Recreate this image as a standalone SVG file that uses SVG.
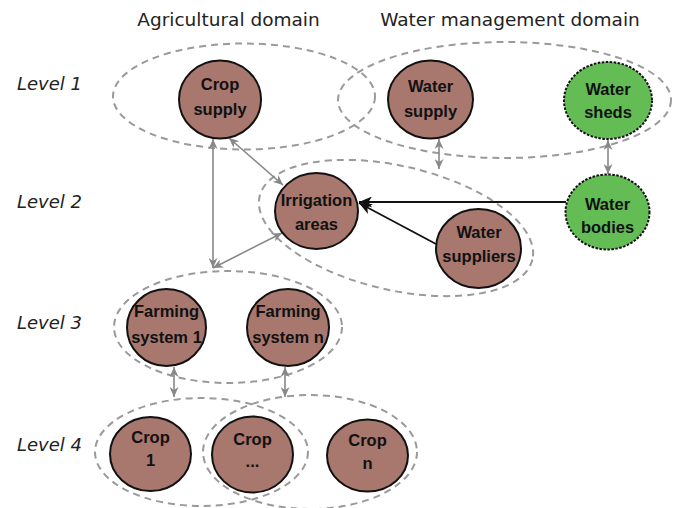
<svg xmlns="http://www.w3.org/2000/svg" width="676" height="508" viewBox="0 0 676 508">
<style>
.grp{fill:none;stroke:#9a9a9a;stroke-width:2;stroke-dasharray:7,5}
.brown{fill:#a8776e;stroke:#111;stroke-width:2}
.green{fill:#64bc55;stroke:#111;stroke-width:2;stroke-dasharray:2.5,1.5}
.lbl{font-family:"Liberation Sans",Arial,sans-serif;font-weight:bold;font-size:16.5px;fill:#111;text-anchor:middle}
.title{font-family:"DejaVu Sans",sans-serif;font-size:18.5px;fill:#222;text-anchor:middle}
.lvl{font-family:"DejaVu Sans",sans-serif;font-style:italic;font-size:18px;fill:#222}
.ga{fill:none;stroke:#888;stroke-width:1.6;marker-start:url(#gh);marker-end:url(#gh)}
.ba{fill:none;stroke:#111;stroke-width:1.8;marker-end:url(#bh)}
</style>
<defs>
<marker id="gh" markerUnits="userSpaceOnUse" markerWidth="11" markerHeight="9" refX="10" refY="4.5" orient="auto-start-reverse">
<path d="M0,0 L10,4.5 L0,9 L3,4.5 z" fill="#888"/>
</marker>
<marker id="bh" markerUnits="userSpaceOnUse" markerWidth="14" markerHeight="11" refX="13" refY="5.5" orient="auto">
<path d="M0,0 L13,5.5 L0,11 L3.5,5.5 z" fill="#111"/>
</marker>
</defs>
<rect width="676" height="508" fill="#fff"/>
<g id="titles">
<text class="title" x="228.5" y="26">Agricultural domain</text>
<text class="title" x="510" y="26">Water management domain</text>
<text class="lvl" x="17" y="90">Level 1</text>
<text class="lvl" x="17" y="208">Level 2</text>
<text class="lvl" x="17" y="329">Level 3</text>
<text class="lvl" x="17" y="451">Level 4</text>
</g>
<g id="groups">
<ellipse class="grp" cx="244" cy="96.5" rx="131" ry="53"/>
<ellipse class="grp" cx="504.5" cy="100" rx="166.5" ry="58"/>
<ellipse class="grp" cx="396" cy="228" rx="140" ry="62" transform="rotate(13 396 228)"/>
<ellipse class="grp" cx="228" cy="327" rx="114" ry="56"/>
<ellipse class="grp" cx="201.5" cy="452" rx="106.5" ry="54"/>
<ellipse class="grp" cx="310" cy="452" rx="107" ry="57"/>
</g>
<g id="connectors">
<line class="ga" x1="213" y1="139" x2="213" y2="268"/>
<line class="ga" x1="229" y1="138" x2="283" y2="185"/>
<line class="ga" x1="282" y1="233" x2="213" y2="268"/>
<line class="ga" x1="439" y1="139" x2="439" y2="169"/>
<line class="ga" x1="608" y1="140" x2="608" y2="174"/>
<line class="ga" x1="174" y1="367" x2="174" y2="397"/>
<line class="ga" x1="285" y1="367" x2="285" y2="397"/>
<line class="ba" x1="566" y1="202" x2="359" y2="202"/>
<line class="ba" x1="436" y1="244" x2="359" y2="203"/>
</g>
<g id="crop-supply">
<ellipse class="brown" cx="220" cy="99.5" rx="41" ry="39"/>
<text class="lbl" x="220" y="90">Crop</text>
<text class="lbl" x="220" y="115">supply</text>
</g>
<g id="water-supply">
<ellipse class="brown" cx="430.5" cy="99.5" rx="42.5" ry="39"/>
<text class="lbl" x="430.5" y="92">Water</text>
<text class="lbl" x="430.5" y="117">supply</text>
</g>
<g id="water-sheds">
<ellipse class="green" cx="608" cy="100.5" rx="44" ry="38.5"/>
<text class="lbl" x="608" y="95">Water</text>
<text class="lbl" x="608" y="118">sheds</text>
</g>
<g id="water-bodies">
<ellipse class="green" cx="607.5" cy="212" rx="42" ry="37.5"/>
<text class="lbl" x="607.5" y="210">Water</text>
<text class="lbl" x="607.5" y="233">bodies</text>
</g>
<g id="irrigation-areas">
<ellipse class="brown" cx="316.5" cy="211" rx="41.5" ry="38"/>
<text class="lbl" x="316.5" y="206">Irrigation</text>
<text class="lbl" x="316.5" y="230">areas</text>
</g>
<g id="water-suppliers">
<ellipse class="brown" cx="478.5" cy="248.5" rx="42.5" ry="39.5"/>
<text class="lbl" x="479" y="238">Water</text>
<text class="lbl" x="479" y="262">suppliers</text>
</g>
<g id="farming-system-1">
<ellipse class="brown" cx="166.5" cy="327.5" rx="39.5" ry="38.5"/>
<text class="lbl" x="166.5" y="317">Farming</text>
<text class="lbl" x="166.5" y="343">system 1</text>
</g>
<g id="farming-system-n">
<ellipse class="brown" cx="288" cy="327.5" rx="41" ry="38.5"/>
<text class="lbl" x="288" y="317">Farming</text>
<text class="lbl" x="288" y="343">system n</text>
</g>
<g id="crop-1">
<ellipse class="brown" cx="150.5" cy="454" rx="40.5" ry="37"/>
<text class="lbl" x="150.5" y="443">Crop</text>
<text class="lbl" x="150.5" y="466">1</text>
</g>
<g id="crop-dots">
<ellipse class="brown" cx="252.5" cy="454.5" rx="40.5" ry="38"/>
<text class="lbl" x="252.5" y="445">Crop</text>
<text class="lbl" x="252.5" y="467">...</text>
</g>
<g id="crop-n">
<ellipse class="brown" cx="367.5" cy="455.5" rx="40.5" ry="36"/>
<text class="lbl" x="367.5" y="446">Crop</text>
<text class="lbl" x="367.5" y="469">n</text>
</g>
</svg>
